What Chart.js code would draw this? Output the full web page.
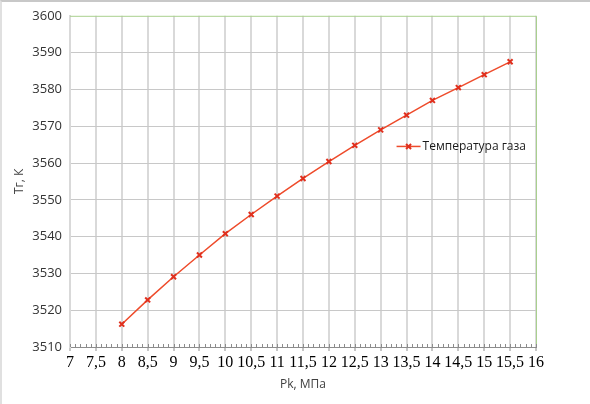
<!DOCTYPE html>
<html lang="ru">
<head>
<meta charset="UTF-8">
<title>Температура газа</title>
<script src="https://cdn.jsdelivr.net/npm/chart.js"></script>
<style>
    body { margin: 0; background: #fff; }
    .frame {
        position: relative;
        width: 590px;
        height: 404px;
        box-sizing: border-box;
        border-top: 2px solid #c8c8c8;
        border-left: 2px solid #e0e0e0;
    }
    canvas { position: absolute; left: -2px; top: -2px; }
</style>
</head>
<body>
<div class="frame">
    <canvas id="chart" width="590" height="404"></canvas>
</div>
<script>
    const pressure = [8, 8.5, 9, 9.5, 10, 10.5, 11, 11.5, 12, 12.5, 13, 13.5, 14, 14.5, 15, 15.5];
    const gasTemp = [3516.2, 3522.8, 3529.1, 3535.0, 3540.8, 3546.0, 3551.0, 3555.8,
                     3560.4, 3564.8, 3569.0, 3573.0, 3577.0, 3580.5, 3584.0, 3587.5];
    const seriesName = 'Температура газа';
    const xTitle = 'Pk, МПа';
    const yTitle = 'Тг, К';

    const lineColor = '#ee4b2b';

    // green plot-area border, minor ticks and the legend placed inside the plot
    const extras = {
        id: 'extras',
        afterDraw(chart) {
            const ctx = chart.ctx;
            const a = chart.chartArea;
            const xs = chart.scales.x;
            ctx.save();
            ctx.strokeStyle = '#a9d08e';
            ctx.lineWidth = 1;
            ctx.beginPath();
            ctx.moveTo(a.left, a.top + 0.5);
            ctx.lineTo(a.right + 0.5, a.top + 0.5);
            ctx.lineTo(a.right + 0.5, a.bottom);
            ctx.stroke();

            ctx.strokeStyle = '#8c8c8c';
            ctx.beginPath();
            for (let v = 7; v < 16; v += 0.1) {
                const px = Math.round(xs.getPixelForValue(v)) + 0.5;
                ctx.moveTo(px, a.bottom - 3);
                ctx.lineTo(px, a.bottom);
            }
            ctx.stroke();

            const lx = xs.getPixelForValue(13.5) + 2;
            const ly = chart.scales.y.getPixelForValue(3564.5);
            ctx.strokeStyle = lineColor;
            ctx.lineWidth = 1.5;
            ctx.beginPath();
            ctx.moveTo(lx - 12, ly);
            ctx.lineTo(lx + 12, ly);
            ctx.stroke();
            ctx.strokeStyle = '#e0301e';
            ctx.lineWidth = 2;
            ctx.beginPath();
            ctx.moveTo(lx - 2.5, ly - 2.5); ctx.lineTo(lx + 2.5, ly + 2.5);
            ctx.moveTo(lx + 2.5, ly - 2.5); ctx.lineTo(lx - 2.5, ly + 2.5);
            ctx.stroke();
            ctx.fillStyle = '#1a1a1a';
            ctx.font = '12px "Open Sans", Arial';
            ctx.textBaseline = 'middle';
            ctx.fillText(seriesName, lx + 14, ly);
            ctx.restore();
        }
    };

    new Chart(document.getElementById('chart'), {
        type: 'line',
        data: {
            datasets: [{
                label: seriesName,
                data: pressure.map((p, i) => ({ x: p, y: gasTemp[i] })),
                borderColor: lineColor,
                borderWidth: 1.5,
                pointStyle: 'crossRot',
                pointRadius: 3.5,
                pointBorderWidth: 2,
                pointBorderColor: '#e0301e',
                tension: 0
            }]
        },
        options: {
            responsive: false,
            animation: false,
            layout: { padding: { top: 15, right: 54, left: 0, bottom: 0 } },
            plugins: { legend: { display: false }, tooltip: { enabled: false } },
            scales: {
                x: {
                    type: 'linear',
                    min: 7,
                    max: 16,
                    afterFit(s) { s.height = 57; },
                    ticks: {
                        stepSize: 0.5,
                        autoSkip: false,
                        maxRotation: 0,
                        padding: 2,
                        color: '#000',
                        font: { family: '"Liberation Serif", "DejaVu Serif", serif', size: 16 },
                        callback: v => String(v).replace('.', ',')
                    },
                    grid: { color: '#d9d9d9', lineWidth: 2, tickLength: 4, tickColor: '#8c8c8c', tickWidth: 1 },
                    border: { color: '#8c8c8c', width: 1 },
                    title: {
                        display: true,
                        text: xTitle,
                        color: '#404040',
                        font: { family: 'Open Sans', size: 12 },
                        padding: { top: 2, bottom: 12 }
                    }
                },
                y: {
                    min: 3510,
                    max: 3600,
                    afterFit(s) { s.width = 70; },
                    ticks: {
                        stepSize: 10,
                        padding: 8,
                        color: '#333',
                        font: { family: 'Open Sans', size: 13 },
                        callback: v => String(v)
                    },
                    grid: {
                        color: c => (c.tick && (c.tick.value === 3510 || c.tick.value === 3600)) ? 'rgba(0,0,0,0)' : '#c8c8c8',
                        lineWidth: 1,
                        drawTicks: false
                    },
                    border: { color: '#d9d9d9', width: 2 },
                    title: {
                        display: true,
                        text: yTitle,
                        color: '#404040',
                        font: { family: 'Open Sans', size: 12 },
                        padding: { top: 12, bottom: 0 }
                    }
                }
            }
        },
        plugins: [extras]
    });
</script>
</body>
</html>
